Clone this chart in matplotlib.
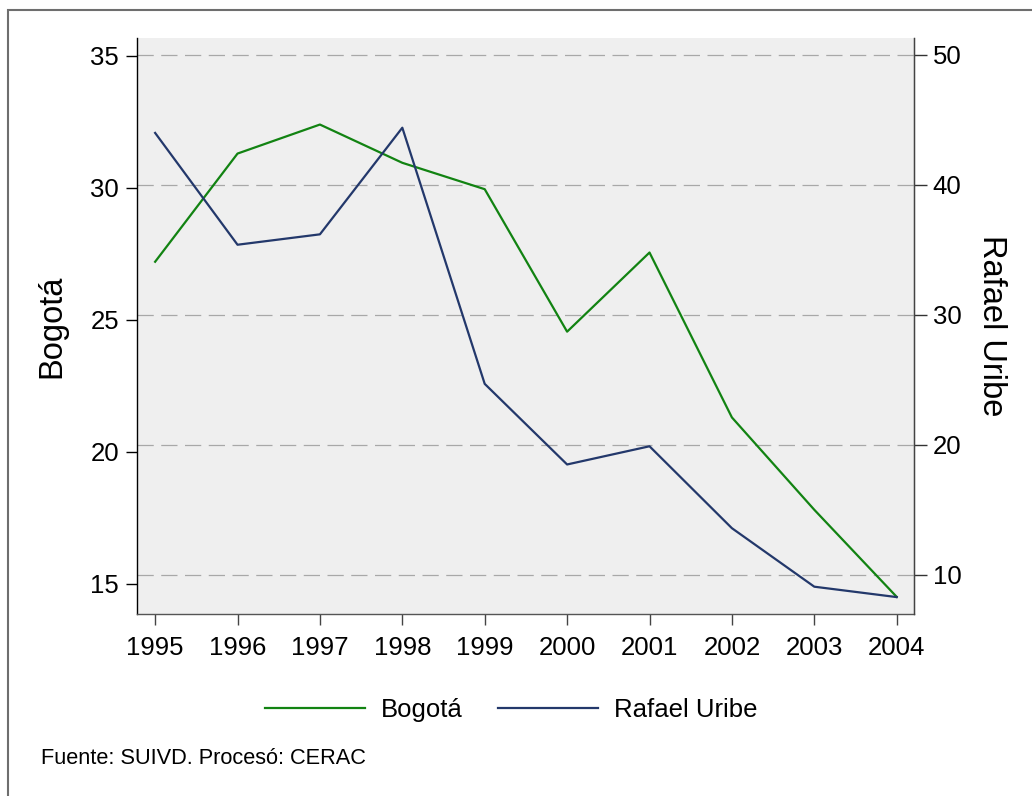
import matplotlib.pyplot as plt
from matplotlib.patches import Rectangle
from matplotlib.transforms import blended_transform_factory

plt.rcParams["font.family"] = ["Liberation Sans", "DejaVu Sans"]

years = [1995, 1996, 1997, 1998, 1999, 2000, 2001, 2002, 2003, 2004]
bogota = [27.2, 31.3, 32.4, 30.95, 29.95, 24.55, 27.55, 21.3, 17.8, 14.5]
rafael_uribe = [44.0, 35.4, 36.2, 44.4, 24.7, 18.5, 19.9, 13.6, 9.1, 8.3]

left_ticks = [15, 20, 25, 30, 35]
right_ticks = [10, 20, 30, 40, 50]

GREEN = "#128312"
NAVY = "#23386b"
FS = 18.5
TITLE_FS = 23.5

W, H = 1032, 796
fig = plt.figure(figsize=(W / 100, H / 100), dpi=100)

# outer frame of the graph region
fig.patches.append(Rectangle((8 / W, -0.2), 1.3, 1.2 - 10 / H,
                             transform=fig.transFigure, fill=False,
                             edgecolor="#6e6e6e", linewidth=1.5))

ax = fig.add_axes([137 / W, 1 - 614 / H, (914 - 137) / W, (614 - 38) / H])
ax.set_facecolor("#efefef")
ax2 = ax.twinx()

ax.set_xlim(1994.78, 2004.21)
ax.set_ylim(13.85, 35.68)
ax2.set_ylim(7.0, 51.3)

# horizontal grid follows the right-hand scale
trans = blended_transform_factory(ax.transAxes, ax2.transData)
for v in right_ticks:
    ax.plot([0, 1], [v, v], transform=trans, color="#a8a8a8", linewidth=0.9,
            dashes=(13, 6), zorder=1)

ax.plot(years, bogota, color=GREEN, linewidth=1.6, zorder=3, label="Bogotá")
ax2.plot(years, rafael_uribe, color=NAVY, linewidth=1.6, zorder=3, label="Rafael Uribe")

ax.set_xticks(years)
ax.set_yticks(left_ticks)
ax2.set_yticks(right_ticks)

ax.tick_params(axis="x", labelsize=FS, length=8, width=1, color="#444444", pad=8)
ax.tick_params(axis="y", labelsize=FS, length=8, width=1, color="black", pad=5)
ax2.tick_params(axis="y", labelsize=FS, length=9.5, width=1, color="#333333", pad=4)

ax.spines["top"].set_visible(False)
ax2.spines["top"].set_visible(False)
ax.spines["left"].set_color("black")
ax.spines["bottom"].set_color("#555555")
ax2.spines["right"].set_color("#444444")
ax2.spines["left"].set_visible(False)
ax2.spines["bottom"].set_visible(False)
for s in ("left", "bottom"):
    ax.spines[s].set_linewidth(1.0)
ax2.spines["right"].set_linewidth(1.0)

ax.set_ylabel("Bogotá", fontsize=TITLE_FS, va="center")
ax.yaxis.set_label_coords(-0.11, 0.5)
ax2.set_ylabel("Rafael Uribe", fontsize=TITLE_FS, rotation=270, va="center")
ax2.yaxis.set_label_coords(1.1, 0.5)

h1, l1 = ax.get_legend_handles_labels()
h2, l2 = ax2.get_legend_handles_labels()
fig.legend(h1 + h2, l1 + l2, loc="center", bbox_to_anchor=(511 / W, 1 - 710 / H),
           ncol=2, frameon=False, fontsize=FS, handlelength=3.9,
           handletextpad=0.6, columnspacing=1.4)

fig.text(41 / W, 1 - 759 / H, "Fuente: SUIVD. Procesó: CERAC", fontsize=15.7,
         va="center", ha="left")

fig.savefig("out.png", dpi=100)
